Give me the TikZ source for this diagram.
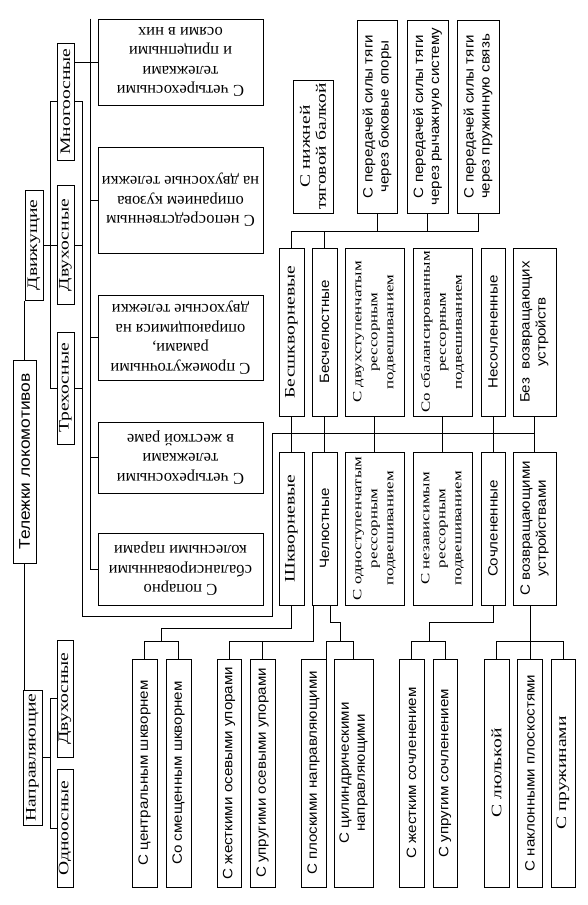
\documentclass[tikz,border=0pt]{standalone}
\usepackage{fontspec}
\setmainfont{Liberation Serif}
\newfontfamily\vserif[FakeStretch=1.35]{Liberation Serif}
\newfontfamily\vsans[FakeStretch=1.12]{Liberation Sans}

\tikzset{
  box/.style={draw, line width=1pt, inner sep=0pt, align=center, fill=white},
  vs/.style={box, rotate=90, font=\vserif\fontsize{14.5}{16}\selectfont},
  vsthree/.style={box, rotate=90, font=\vserif\fontsize{12.5}{16}\selectfont},
  vss/.style={box, rotate=90, font=\vsans\fontsize{13.5}{16}\selectfont},
  hs/.style={box, rotate=180, font=\fontsize{16.5}{19.5}\selectfont},
  link/.style={line width=0.8pt},
}

\begin{document}
\begin{tikzpicture}[x=1pt, y=-1pt]
\useasboundingbox (0,0) rectangle (587,905);

% top level
\node[vss, font=\vsans\fontsize{15.5}{16}\selectfont, minimum width=203pt, minimum height=23pt] (title) at (24.5,461.5) {Тележки локомотивов};
\node[vs, minimum width=110pt, minimum height=18pt] (dv) at (34,245) {Движущие};
\node[vs, minimum width=135pt, minimum height=19pt] (napr) at (32.5,757.5) {Направляющие};

% driving: by axle count
\node[vs, minimum width=117pt, minimum height=17pt] (mnogo) at (65.5,101.5) {Многоосные};
\node[vs, minimum width=119pt, minimum height=17pt] (dvuh1) at (65.5,245) {Двухосные};
\node[vs, minimum width=112pt, minimum height=17pt] (treh) at (65.5,388) {Трехосные};

% guiding: by axle count
\node[vs, minimum width=117pt, minimum height=16pt] (dvuh2) at (65,698.5) {Двухосные};
\node[vs, minimum width=118pt, minimum height=16pt] (odno) at (65,828) {Одноосные};

% multi-axle variants
\node[hs, minimum width=165pt, minimum height=86pt] (h1) at (180.5,62) {С четырехосными\\тележками\\и прицепными\\осями в них};
\node[hs, minimum width=165pt, minimum height=106pt] (h2) at (180.5,200) {С непосредственным\\опиранием кузова\\на двухосные тележки};
\node[hs, minimum width=165pt, minimum height=85pt] (h3) at (180.5,337.5) {С промежуточными\\рамами,\\опирающимися на\\двухосные тележки};
\node[hs, minimum width=165pt, minimum height=71pt] (h4) at (180.5,457.5) {С четырехосными\\тележками\\в жесткой раме};
\node[hs, minimum width=165pt, minimum height=72pt] (h5) at (180.5,569) {С попарно\\сбалансированными\\колесными парами};

% traction transfer
\node[vs, minimum width=133pt, minimum height=40pt] (nb) at (313,146.5) {С нижней\\тяговой балкой};
\node[vss, minimum width=193pt, minimum height=40pt] (pA) at (377,116.5) {С передачей силы тяги\\через боковые опоры};
\node[vss, minimum width=193pt, minimum height=41pt] (pB) at (427.5,116.5) {С передачей силы тяги\\через рычажную систему};
\node[vss, minimum width=193pt, minimum height=42pt] (pC) at (478,116.5) {С передачей силы тяги\\через пружинную связь};

% upper row
\node[vs, minimum width=168pt, minimum height=25pt] (bshk) at (291.5,332) {Бесшкворневые};
\node[vss, minimum width=168pt, minimum height=25pt] (bchel) at (324.5,332) {Бесчелюстные};
\node[vsthree, minimum width=168pt, minimum height=59pt] (dvst) at (374.5,332) {С двухступенчатым\\рессорным\\подвешиванием};
\node[vsthree, minimum width=168pt, minimum height=59pt] (sbal) at (442.5,332) {Со сбалансированным\\рессорным\\подвешиванием};
\node[vss, minimum width=168pt, minimum height=24pt] (nesoch) at (493,332) {Несочлененные};
\node[vss, minimum width=168pt, minimum height=43pt] (bezv) at (534.5,332) {Без~~возвращающих\\устройств};

% lower row
\node[vs, minimum width=153pt, minimum height=25pt] (shk) at (291.5,528.5) {Шкворневые};
\node[vss, minimum width=153pt, minimum height=25pt] (chel) at (324.5,528.5) {Челюстные};
\node[vsthree, minimum width=153pt, minimum height=59pt] (odnost) at (374.5,528.5) {С одноступенчатым\\рессорным\\подвешиванием};
\node[vsthree, minimum width=153pt, minimum height=59pt] (nezav) at (442.5,528.5) {С независимым\\рессорным\\подвешиванием};
\node[vss, minimum width=153pt, minimum height=24pt] (soch) at (493,528.5) {Сочлененные};
\node[vss, minimum width=153pt, minimum height=43pt] (svozv) at (534.5,528.5) {С возвращающими\\устройствами};

% bottom row
\node[vss, minimum width=228pt, minimum height=25pt] (cshk) at (144.5,773) {С центральным шкворнем};
\node[vss, minimum width=228pt, minimum height=25pt] (smsh) at (178.5,773) {Со смещенным шкворнем};
\node[vss, minimum width=228pt, minimum height=24pt] (zhup) at (229,773) {С жесткими осевыми упорами};
\node[vss, minimum width=228pt, minimum height=25pt] (upup) at (262.5,773) {С упругими осевыми упорами};
\node[vss, minimum width=228pt, minimum height=25pt] (plosk) at (313.5,773) {С плоскими направляющими};
\node[vss, minimum width=228pt, minimum height=39pt] (cilin) at (353.5,773) {С цилиндрическими\\направляющими};
\node[vss, minimum width=228pt, minimum height=25pt] (zhsoch) at (411.5,773) {С жестким сочленением};
\node[vss, minimum width=228pt, minimum height=24pt] (upsoch) at (445,773) {С упругим сочленением};
\node[vs, minimum width=228pt, minimum height=25pt] (lyul) at (496.5,773) {С люлькой};
\node[vss, minimum width=228pt, minimum height=25pt] (naklon) at (530,773) {С наклонными плоскостями};
\node[vs, minimum width=228pt, minimum height=24pt] (pruzh) at (563,773) {С пружинами};

% helper coordinates
\coordinate (lb) at (50,0);
\coordinate (rb) at (82,0);
\coordinate (hb) at (90,0);
\coordinate (fb) at (0,616);
\coordinate (fr) at (272,0);
\coordinate (mb) at (0,433);
\coordinate (tb) at (0,231);
\coordinate (ub) at (0,641);
\coordinate (shkj) at (161,628);
\coordinate (chelj) at (340,622);
\coordinate (sochj) at (429,622);

% left side
\draw[link] (title.east) -- (title.east |- dv.west);
\draw[link] (title.west) -- (title.west |- napr.east);
\draw[link] (mnogo) -- (mnogo -| lb) |- (treh);
\draw[link] (dv) -- (dvuh1);
\draw[link] (dvuh2) -- (dvuh2 -| lb) |- (odno);
\draw[link] (napr) -- (napr -| lb);
\draw[link] (mnogo.south |- h1) -- (h1);
\draw[link] (hb |- h1.south) -- (hb |- h5);
\foreach \b in {h2,h3,h4,h5}
  \draw[link] (hb |- \b) -- (\b);

% frame round the variants, into the middle bus
\draw[link] (mnogo) -- (mnogo -| rb) -- (rb |- fb) -| (fr |- mb) -- (bezv |- mb);
\draw[link] (dvuh1) -- (dvuh1 -| rb);
\draw[link] (treh) -- (treh -| rb);

% upper bus
\draw[link] (bshk) -- (bshk |- tb) -- (pC |- tb) -- (pC);
\foreach \b in {bchel,pA,pB}
  \draw[link] (\b) -- (\b |- tb);

% pairs through the middle bus
\foreach \a/\b in {bshk/shk, bchel/chel, dvst/odnost, sbal/nezav, nesoch/soch, bezv/svozv}
  \draw[link] (\a) -- (\b);

% lower branches
\draw[link] (shk) |- (shkj) -- (shkj |- ub);
\draw[link] (cshk) |- (smsh |- ub) -- (smsh);
\draw[link] ([xshift=-11pt]chel.west) |- (zhup |- ub) -- (zhup);
\draw[link] (upup) -- (upup |- ub);
\draw[link] ([xshift=5.5pt]chel.west) |- (chelj) -- (chelj |- ub);
\draw[link] (plosk.south east) |- (cilin |- ub) -- (cilin);
\draw[link] (soch) |- (sochj) -- (sochj |- ub);
\draw[link] (zhsoch) |- (upsoch |- ub) -- (upsoch);
\draw[link] ([xshift=-4.5pt]svozv.west) -- (naklon);
\draw[link] (lyul) |- (pruzh |- ub) -- (pruzh);
\end{tikzpicture}
\end{document}
